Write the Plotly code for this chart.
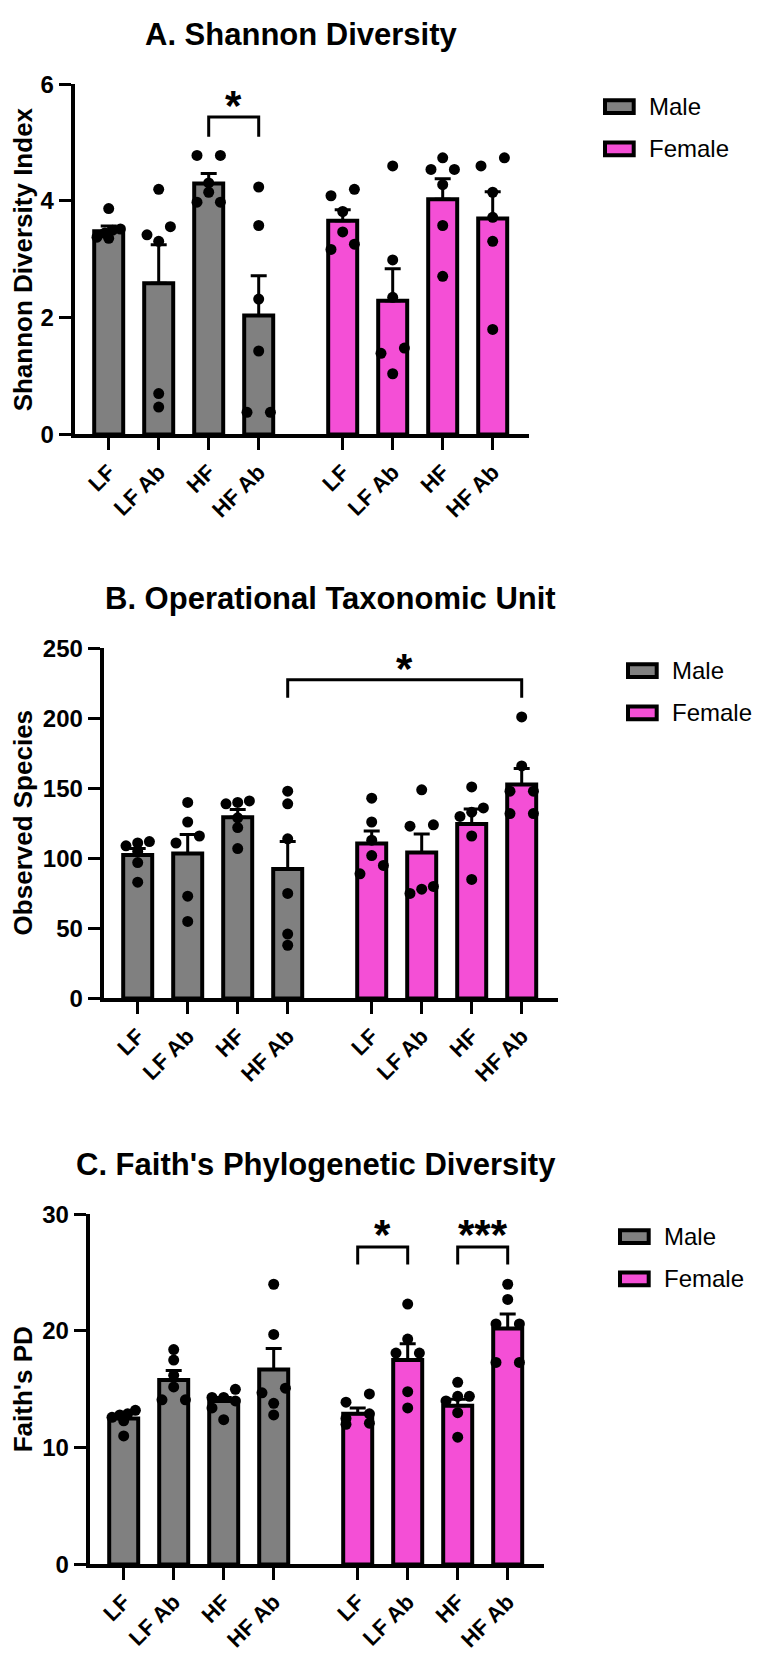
import plotly.graph_objects as go

# ---------------- data ----------------
categories = ["LF", "LF Ab", "HF", "HF Ab"]
sex_labels = ["Male", "Female"]

# Panel A - Shannon diversity index
shannon_male_points = [
    [3.87, 3.52, 3.50, 3.45, 3.38, 3.36],
    [4.20, 3.56, 3.42, 3.31, 0.70, 0.47],
    [4.78, 4.78, 4.31, 4.15, 3.98, 3.98],
    [4.24, 3.58, 2.32, 1.43, 0.38, 0.38],
]
shannon_female_points = [
    [4.20, 4.09, 3.82, 3.47, 3.26, 3.17],
    [4.60, 2.99, 2.35, 1.48, 1.39, 1.04],
    [4.74, 4.54, 4.54, 4.28, 3.58, 2.71],
    [4.74, 4.60, 4.15, 3.72, 3.31, 1.80],
]
shannon_male_mean = [3.48, 2.59, 4.30, 2.04]
shannon_male_sem = [0.09, 0.66, 0.17, 0.68]
shannon_female_mean = [3.66, 2.29, 4.03, 3.70]
shannon_female_sem = [0.19, 0.55, 0.35, 0.46]

# Panel B - Observed species (OTU)
otu_male_points = [
    [112, 111, 109, 105, 97, 83],
    [140, 126, 116, 111, 73, 55],
    [141, 140, 139, 129, 122, 107],
    [148, 139, 114, 75, 46, 38],
]
otu_female_points = [
    [143, 126, 113, 102, 95, 89],
    [149, 124, 123, 80, 78, 75],
    [151, 136, 133, 130, 116, 85],
    [201, 166, 148, 148, 132, 132],
]
otu_male_mean = [102.5, 103.5, 129.3, 92.5]
otu_male_sem = [4.5, 13.5, 5.7, 19.5]
otu_female_mean = [110.7, 104.3, 124.6, 152.7]
otu_female_sem = [8.8, 13.2, 10.6, 11.5]

# Panel C - Faith's PD
faith_male_points = [
    [13.2, 12.9, 12.8, 12.6, 12.3, 11.0],
    [18.4, 17.5, 16.2, 15.2, 14.1, 14.1],
    [15.0, 14.3, 14.3, 14.0, 13.4, 12.4],
    [24.0, 19.7, 15.1, 14.7, 13.8, 12.8],
]
faith_female_points = [
    [14.6, 13.9, 12.9, 12.5, 12.1, 12.0],
    [22.3, 19.3, 18.1, 18.1, 14.8, 13.4],
    [15.6, 14.4, 14.4, 14.0, 13.0, 10.9],
    [24.0, 22.7, 20.6, 20.6, 17.3, 17.3],
]
faith_male_mean = [12.5, 15.8, 14.0, 16.7]
faith_male_sem = [0.4, 0.8, 0.3, 1.8]
faith_female_mean = [12.9, 17.5, 13.6, 20.2]
faith_female_sem = [0.5, 1.4, 0.55, 1.25]

# significance comparisons: (sex_a, cat_a, sex_b, cat_b, label)
shannon_sig = [("Male", 2, "Male", 3, "*")]
otu_sig = [("Male", 3, "Female", 3, "*")]
faith_sig = [("Female", 0, "Female", 1, "*"), ("Female", 2, "Female", 3, "***")]

# ---------------- style / layout ----------------
W_PX, H_PX = 764, 1653
PLOT_W, PLOT_H = 454, 356
X_RANGE = [-0.68, 8.4]
FEMALE_SHIFT = 4.68
BAR_W = 0.58
UNIT_PX = PLOT_W / (X_RANGE[1] - X_RANGE[0])
GREY = "#808080"
PINK = "#F44FD6"
FONT = "Arial, 'Liberation Sans', Helvetica, sans-serif"
COLORS = {"Male": GREY, "Female": PINK}

panels = [
    dict(title="A. Shannon Diversity", ytitle="Shannon Diversity Index",
         pts={"Male": shannon_male_points, "Female": shannon_female_points},
         mean={"Male": shannon_male_mean, "Female": shannon_female_mean},
         sem={"Male": shannon_male_sem, "Female": shannon_female_sem},
         ymax=6, dtick=2, left=66.7, top=63.3, sig=shannon_sig,
         br_top=5.44, br_leg=5.10, star=5.79),
    dict(title="B. Operational Taxonomic Unit", ytitle="Observed Species",
         pts={"Male": otu_male_points, "Female": otu_female_points},
         mean={"Male": otu_male_mean, "Female": otu_female_mean},
         sem={"Male": otu_male_sem, "Female": otu_female_sem},
         ymax=250, dtick=50, left=95.7, top=636.7, sig=otu_sig,
         br_top=227.6, br_leg=214.7, star=241.7),
    dict(title="C. Faith's Phylogenetic Diversity", ytitle="Faith's PD",
         pts={"Male": faith_male_points, "Female": faith_female_points},
         mean={"Male": faith_male_mean, "Female": faith_female_mean},
         sem={"Male": faith_male_sem, "Female": faith_female_sem},
         ymax=30, dtick=10, left=81.7, top=1212.0, sig=faith_sig,
         br_top=27.2, br_leg=25.7, star=29.05),
]


def px_x(p):
    return p / W_PX


def px_y(p):
    return 1 - p / H_PX


def cat_pos(sex, i):
    return i + (FEMALE_SHIFT if sex == "Female" else 0.0)


def swarm(values, px_per_unit, spread_px=11.7, tie_px=9.0):
    order = sorted(range(len(values)), key=lambda i: -values[i])
    offs = [0.0] * len(values)
    k = 0
    while k < len(order):
        row = [order[k]]
        j = k + 1
        while j < len(order) and (values[order[k]] - values[order[j]]) * px_per_unit < tie_px:
            row.append(order[j])
            j += 1
        n = len(row)
        for r, i in enumerate(row):
            offs[i] = 0.0 if n == 1 else spread_px - 2 * spread_px * r / (n - 1)
        k = j
    return [o / UNIT_PX for o in offs]


fig = go.Figure()
shapes, annotations = [], []
layout_axes = {}

for pi, pn in enumerate(panels):
    suf = "" if pi == 0 else str(pi + 1)
    xa, ya = "x" + suf, "y" + suf
    left, top = pn["left"], pn["top"]
    ypx = PLOT_H / pn["ymax"]

    for sex in sex_labels:
        xs = [cat_pos(sex, i) for i in range(len(categories))]
        fig.add_trace(go.Bar(
            x=xs, y=pn["mean"][sex], width=BAR_W, name=sex,
            marker=dict(color=COLORS[sex], line=dict(color="black", width=4)),
            error_y=dict(type="data", array=pn["sem"][sex], arrayminus=[0] * len(xs),
                         symmetric=False, color="black", thickness=3, width=8),
            xaxis=xa, yaxis=ya, showlegend=False))
    for sex in sex_labels:
        px_, py_ = [], []
        for i, vals in enumerate(pn["pts"][sex]):
            offs = swarm(vals, ypx)
            px_ += [cat_pos(sex, i) + o for o in offs]
            py_ += vals
        fig.add_trace(go.Scatter(
            x=px_, y=py_, mode="markers", marker=dict(color="black", size=11),
            xaxis=xa, yaxis=ya, showlegend=False, cliponaxis=False))

    layout_axes["xaxis" + suf] = dict(
        domain=[px_x(left), px_x(left + PLOT_W)], range=X_RANGE, anchor=ya,
        tickvals=[cat_pos(s, i) for s in sex_labels for i in range(len(categories))],
        ticktext=categories * 2, tickangle=-45, ticks="outside", ticklen=12, tickwidth=3,
        tickcolor="black", showline=True, linewidth=4, linecolor="black",
        showgrid=False, zeroline=False,
        tickfont=dict(family=FONT, size=22, color="black", weight="bold"))
    layout_axes["yaxis" + suf] = dict(
        domain=[px_y(top + PLOT_H), px_y(top)], range=[0, pn["ymax"]], anchor=xa,
        tick0=0, dtick=pn["dtick"], ticks="outside", ticklen=12, tickwidth=3,
        tickcolor="black", showline=True, linewidth=4, linecolor="black",
        showgrid=False, zeroline=False,
        tickfont=dict(family=FONT, size=24, color="black", weight="bold"))

    # panel title
    annotations.append(dict(text=pn["title"], xref="paper", yref="paper",
                            x=px_x(left + 226.5), y=px_y(top - 51), xanchor="center",
                            yanchor="middle", showarrow=False,
                            font=dict(family=FONT, size=31, color="black", weight="bold")))
    # y-axis title
    annotations.append(dict(text=pn["ytitle"], xref="paper", yref="paper",
                            x=px_x(15), y=px_y(top + PLOT_H / 2), xanchor="center",
                            yanchor="middle", textangle=-90, showarrow=False,
                            font=dict(family=FONT, size=26, color="black", weight="bold")))
    # significance brackets
    for sa, ia, sb, ib, lab in pn["sig"]:
        x1, x2 = cat_pos(sa, ia), cat_pos(sb, ib)
        shapes.append(dict(type="path", xref=xa, yref=ya,
                           path=f"M {x1},{pn['br_leg']} L {x1},{pn['br_top']} L {x2},{pn['br_top']} L {x2},{pn['br_leg']}",
                           line=dict(color="black", width=3)))
        annotations.append(dict(text=lab, xref=xa, yref=ya, x=(x1 + x2) / 2, y=pn["star"],
                                xanchor="center", yanchor="middle", yshift=-9, showarrow=False,
                                font=dict(family=FONT, size=42, color="black", weight="bold")))
    # legend (drawn manually), kept inside the page width
    leg_left = min(left + 530.3, 620.0)
    for k, sex in enumerate(sex_labels):
        cy = top + 22.7 + 43 * k
        shapes.append(dict(type="rect", xref="paper", yref="paper",
                           x0=px_x(leg_left), x1=px_x(leg_left + 28.7),
                           y0=px_y(cy + 6.5), y1=px_y(cy - 6.5),
                           fillcolor=COLORS[sex], line=dict(color="black", width=4)))
        annotations.append(dict(text=sex, xref="paper", yref="paper",
                                x=px_x(leg_left + 41.7), y=px_y(cy), xanchor="left",
                                yanchor="middle", showarrow=False,
                                font=dict(family=FONT, size=24, color="black")))

fig.update_layout(
    width=W_PX, height=H_PX, autosize=False,
    margin=dict(l=0, r=0, t=0, b=0),
    paper_bgcolor="white", plot_bgcolor="white",
    barmode="overlay", showlegend=False,
    shapes=shapes, annotations=annotations,
    **layout_axes)

fig.write_html("out.html")
